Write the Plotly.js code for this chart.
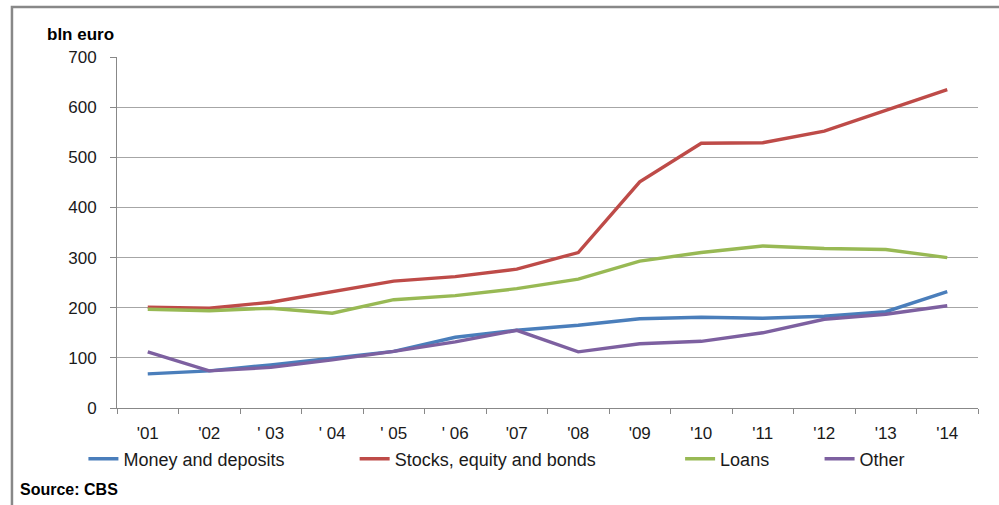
<!DOCTYPE html>
<html>
<head>
<meta charset="utf-8">
<script src="https://cdn.plot.ly/plotly-3.0.1.min.js"></script>
<style>
  html, body { margin: 0; padding: 0; background: #fff; }
  #chart { width: 999px; height: 505px; }
</style>
</head>
<body>
<div id="chart"></div>
<script>
// ---- data ----
const years = ["'01", "'02", "' 03", "' 04", "' 05", "' 06", "'07", "'08", "'09", "'10", "'11", "'12", "'13", "'14"];
const moneyDeposits = [68, 74, 86, 100, 113, 141, 155, 165, 178, 181, 179, 183, 192, 232];
const stocksEquityBonds = [201, 199, 211, 232, 253, 262, 277, 310, 451, 528, 529, 552, 594, 635];
const loans = [197, 194, 199, 189, 216, 224, 238, 257, 293, 310, 323, 318, 316, 300];
const other = [112, 74, 81, 96, 113, 132, 155, 112, 128, 133, 150, 177, 187, 204];
const seriesNames = ["Money and deposits", "Stocks, equity and bonds", "Loans", "Other"];

const font = "'Liberation Sans', Arial, sans-serif";
const colors = ["#4A7EBB", "#BE4B48", "#98B954", "#7D60A0"];
const seriesData = [moneyDeposits, stocksEquityBonds, loans, other];
const legendIds = ["legend", "legend2", "legend3", "legend4"];
const legendX = [-0.039, 0.276, 0.654, 0.816];

const traces = seriesData.map((vals, i) => ({
  type: "scatter",
  mode: "lines",
  x: years,
  y: vals,
  name: seriesNames[i],
  legend: legendIds[i],
  line: { color: colors[i], width: 3.4 },
  hoverinfo: "skip"
}));

const layout = {
  width: 999,
  height: 505,
  margin: { l: 117, r: 21, t: 57, b: 97 },
  paper_bgcolor: "#ffffff",
  plot_bgcolor: "#ffffff",
  font: { family: font, size: 17, color: "#1a1a1a" },
  showlegend: true,
  xaxis: {
    type: "category",
    range: [-0.5, 13.5],
    showgrid: false,
    zeroline: false,
    showline: true,
    linecolor: "#888888",
    linewidth: 1,
    ticks: "outside",
    tickson: "boundaries",
    ticklen: 5,
    tickcolor: "#888888",
    ticklabelstandoff: 10,
    tickfont: { family: font, size: 17, color: "#1a1a1a" },
    fixedrange: true
  },
  yaxis: {
    range: [0, 700],
    dtick: 100,
    tick0: 0,
    showgrid: true,
    gridcolor: "#a6a6a6",
    gridwidth: 1,
    zeroline: false,
    showline: true,
    linecolor: "#888888",
    linewidth: 1,
    ticks: "outside",
    ticklen: 6,
    tickcolor: "#888888",
    ticklabelstandoff: 10,
    tickfont: { family: font, size: 17, color: "#1a1a1a" },
    fixedrange: true
  },
  annotations: [
    {
      text: "<b>bln euro</b>",
      xref: "paper", yref: "paper",
      x: -0.0836, y: 1.0655,
      xanchor: "left", yanchor: "middle",
      showarrow: false,
      font: { family: font, size: 17, color: "#000000" }
    },
    {
      text: "<b>Source: CBS</b>",
      xref: "paper", yref: "paper",
      x: -0.115, y: -0.2336,
      xanchor: "left", yanchor: "middle",
      showarrow: false,
      font: { family: font, size: 16, color: "#000000" }
    }
  ],
  shapes: [
    {
      type: "rect",
      xref: "paper", yref: "paper",
      x0: -0.122, x1: 1.2,
      y0: -0.5, y1: 1.1425,
      line: { color: "#888888", width: 2.5 },
      fillcolor: "rgba(0,0,0,0)",
      layer: "below"
    }
  ]
};

legendIds.forEach((id, i) => {
  layout[id] = {
    orientation: "h",
    x: legendX[i],
    y: -0.1453,
    xanchor: "left",
    yanchor: "middle",
    bgcolor: "rgba(0,0,0,0)",
    borderwidth: 0,
    font: { family: font, size: 18, color: "#1a1a1a" }
  };
});

Plotly.newPlot("chart", traces, layout, { displayModeBar: false, staticPlot: true });
</script>
</body>
</html>
